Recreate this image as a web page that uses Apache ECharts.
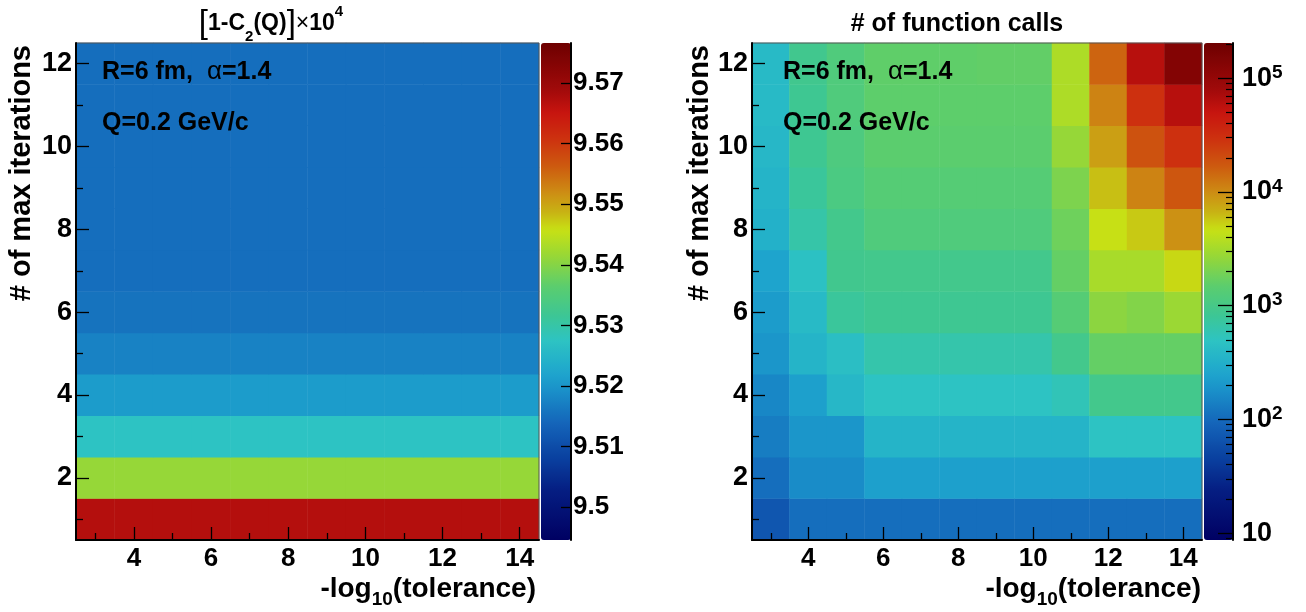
<!DOCTYPE html>
<html><head><meta charset="utf-8">
<script src="https://cdn.jsdelivr.net/npm/echarts@6/dist/echarts.min.js"></script>
<style>html,body{margin:0;padding:0;background:#fff}#c{width:1306px;height:612px}</style>
</head><body><div id="c"></div>
<script>
// ---------------- data ----------------
const tolerance = ['3','4','5','6','7','8','9','10','11','12','13','14'];
const iterations = ['1','2','3','4','5','6','7','8','9','10','11','12'];
// [1-C2(Q)]x10^4 ; rows = max iterations 1..12, columns = -log10(tolerance) 3..14
const c2Rows = [
  [9.5670,9.5670,9.5670,9.5670,9.5670,9.5670,9.5670,9.5670,9.5670,9.5670,9.5670,9.5670],
  [9.5413,9.5413,9.5413,9.5413,9.5413,9.5413,9.5413,9.5413,9.5413,9.5413,9.5413,9.5413],
  [9.5274,9.5274,9.5274,9.5274,9.5274,9.5274,9.5274,9.5274,9.5274,9.5274,9.5274,9.5274],
  [9.5208,9.5208,9.5208,9.5208,9.5208,9.5208,9.5208,9.5208,9.5208,9.5208,9.5208,9.5208],
  [9.5175,9.5175,9.5175,9.5175,9.5175,9.5175,9.5175,9.5175,9.5175,9.5175,9.5175,9.5175],
  [9.5156,9.5156,9.5156,9.5156,9.5156,9.5156,9.5156,9.5156,9.5156,9.5156,9.5156,9.5156],
  [9.5150,9.5150,9.5150,9.5150,9.5150,9.5150,9.5150,9.5150,9.5150,9.5150,9.5150,9.5150],
  [9.5150,9.5150,9.5150,9.5150,9.5150,9.5150,9.5150,9.5150,9.5150,9.5150,9.5150,9.5150],
  [9.5150,9.5150,9.5150,9.5150,9.5150,9.5150,9.5150,9.5150,9.5150,9.5150,9.5150,9.5150],
  [9.5150,9.5150,9.5150,9.5150,9.5150,9.5150,9.5150,9.5150,9.5150,9.5150,9.5150,9.5150],
  [9.5150,9.5150,9.5150,9.5150,9.5150,9.5150,9.5150,9.5150,9.5150,9.5150,9.5150,9.5150],
  [9.5150,9.5150,9.5150,9.5150,9.5150,9.5150,9.5150,9.5150,9.5150,9.5150,9.5150,9.5150]
];
// # of function calls ; rows = max iterations 1..12, columns = -log10(tolerance) 3..14
const callRows = [
  [69,107,107,107,107,107,107,107,107,107,107,107],
  [107,168,168,234,234,234,234,234,234,234,234,234],
  [134,197,197,352,352,352,352,352,352,488,488,488],
  [155,234,383,488,488,488,488,488,556,935,935,935],
  [197,352,440,643,643,643,643,643,935,1630,1630,1630],
  [218,400,767,848,848,848,848,848,1330,2440,2200,2830],
  [250,470,900,935,935,935,935,935,1630,3300,3300,5000],
  [325,660,935,1200,1200,1200,1200,1200,1800,4650,5600,9480],
  [352,767,1090,1330,1330,1330,1330,1330,2100,6030,11000,17700],
  [380,848,1150,1475,1475,1475,1475,1475,2700,8150,18600,30000],
  [400,848,1200,1520,1520,1520,1520,1520,3470,11000,30000,61000],
  [400,900,1200,1550,1550,1550,1600,1600,3470,15100,61000,136000]
];
const c2BarTicks = [9.50,9.51,9.52,9.53,9.54,9.55,9.56,9.57];
const c2Range = [9.4946, 9.5766];
const callBarDecades = [1,2,3,4,5];           // log10 of 10 ... 10^5
const callLogRange = [0.94, 5.31];

// ---------------- palette ----------------
const paletteStops = [
  [0.0,[0,0,98]],[0.10,[5,30,130]],[0.166,[10,65,160]],[0.234,[20,100,185]],
  [0.294,[25,140,200]],[0.335,[30,165,205]],[0.40,[45,195,195]],[0.45,[60,198,150]],
  [0.51,[90,205,110]],[0.57,[150,215,55]],[0.624,[200,225,20]],[0.658,[200,180,20]],
  [0.70,[205,140,20]],[0.752,[205,90,15]],[0.806,[205,50,15]],[0.86,[200,20,15]],
  [0.907,[160,10,10]],[1.0,[110,0,0]]
];
function buildPalette(n){
  const out=[];
  for(let i=0;i<n;i++){
    const t=i/(n-1);
    let k=0; while(k<paletteStops.length-2 && t>paletteStops[k+1][0]) k++;
    const [t0,c0]=paletteStops[k],[t1,c1]=paletteStops[k+1];
    const f=(t-t0)/(t1-t0);
    const c=c0.map((v,j)=>Math.round(v+(c1[j]-v)*f));
    out.push('rgb('+c.join(',')+')');
  }
  return out;
}
const palette = buildPalette(121);

const c2Data=[]; c2Rows.forEach((row,yi)=>row.forEach((v,xi)=>c2Data.push([xi,yi,v])));
const callData=[]; callRows.forEach((row,yi)=>row.forEach((v,xi)=>callData.push([xi,yi,v,Math.log10(v)])));
const callMinor=[];
for(let d=0; d<=5; d++) for(let k=2;k<=9;k++){const l=d+Math.log10(k); if(l>callLogRange[0]&&l<callLogRange[1]) callMinor.push(l);}

// ---------------- styling ----------------
const FONT='Liberation Sans';
const xlbl={fontSize:26,fontWeight:'bold',fontFamily:FONT,color:'#000'};
const ylbl={fontSize:27,fontWeight:'bold',fontFamily:FONT,color:'#000'};
const AXW=2, TKW=1.3;
function xMajor(g){return {type:'category',gridIndex:g,data:tolerance,position:'bottom',z:10,
  axisLine:{show:true,onZero:false,lineStyle:{color:'#000',width:AXW}},
  axisTick:{show:true,inside:true,alignWithLabel:true,length:13,interval:(i)=>i%2===1,lineStyle:{color:'#000',width:TKW}},
  axisLabel:Object.assign({interval:(i)=>i%2===1,margin:6},xlbl),splitLine:{show:false}};}
function xMinor(g){return {type:'category',gridIndex:g,data:tolerance,position:'bottom',z:10,
  axisLine:{show:false,onZero:false},
  axisTick:{show:true,inside:true,alignWithLabel:true,length:7,interval:(i)=>i%2===0,lineStyle:{color:'#000',width:TKW}},
  axisLabel:{show:false},splitLine:{show:false}};}
function yMajor(g){return {type:'category',gridIndex:g,data:iterations,position:'left',z:10,
  axisLine:{show:true,onZero:false,lineStyle:{color:'#000',width:AXW}},
  axisTick:{show:true,inside:true,alignWithLabel:true,length:13,interval:(i)=>i%2===1,lineStyle:{color:'#000',width:TKW}},
  axisLabel:Object.assign({interval:(i)=>i%2===1,margin:4},ylbl),splitLine:{show:false}};}
function yMinor(g){return {type:'category',gridIndex:g,data:iterations,position:'left',z:10,
  axisLine:{show:false,onZero:false},
  axisTick:{show:true,inside:true,alignWithLabel:true,length:7,interval:(i)=>i%2===0,lineStyle:{color:'#000',width:TKW}},
  axisLabel:{show:false},splitLine:{show:false}};}

const gridBase={top:43,height:497,show:true,borderColor:'#555',borderWidth:1,backgroundColor:'transparent',z:5,containLabel:false,outerBoundsMode:'none'};
const subRich={b:{fontSize:28,fontFamily:FONT,fontWeight:'bold',fill:'#000',lineHeight:40},
               sub:{fontSize:19,fontFamily:FONT,fontWeight:'bold',fill:'#000',lineHeight:19,verticalAlign:'bottom'}};
const annRich={b:{fontSize:25,fontFamily:FONT,fontWeight:'bold',fill:'#000'},a:{fontSize:26,fontFamily:FONT,fontWeight:'normal',fill:'#000'}};

const option={
  animation:false,
  backgroundColor:'#fff',
  grid:[
    Object.assign({left:76,width:463},gridBase),
    Object.assign({left:752,width:450},gridBase),
    {left:541,width:30,top:43,height:497,show:false,containLabel:false,outerBoundsMode:'none'},
    {left:1204,width:29,top:43,height:497,show:false,containLabel:false,outerBoundsMode:'none'}
  ],
  xAxis:[
    xMajor(0), xMinor(0), xMajor(1), xMinor(1),
    {type:'value',gridIndex:2,show:false,min:0,max:1},
    {type:'value',gridIndex:3,show:false,min:0,max:1}
  ],
  yAxis:[
    yMajor(0), yMinor(0), yMajor(1), yMinor(1),
    {type:'value',gridIndex:2,position:'right',min:c2Range[0],max:c2Range[1],z:10,
      axisLine:{show:true,onZero:false,lineStyle:{color:'#000',width:AXW}},
      axisTick:{show:true,inside:true,length:10,customValues:c2BarTicks,lineStyle:{color:'#000',width:TKW}},
      axisLabel:Object.assign({customValues:c2BarTicks,margin:2,formatter:(v)=>String(+(+v).toFixed(2))},xlbl),
      splitLine:{show:false}},
    {type:'value',gridIndex:3,position:'right',min:callLogRange[0],max:callLogRange[1],z:10,
      axisLine:{show:true,onZero:false,lineStyle:{color:'#000',width:AXW}},
      axisTick:{show:true,inside:true,length:15,customValues:callBarDecades,lineStyle:{color:'#000',width:TKW}},
      axisLabel:{customValues:callBarDecades,margin:9,
        formatter:(v)=>{const n=Math.round(v);return n===1?'{b|10}':'{b|10}{s|'+n+'}';},
        rich:{b:{fontSize:27,fontWeight:'bold',fontFamily:FONT,color:'#000',lineHeight:30},
              s:{fontSize:19,fontWeight:'bold',fontFamily:FONT,color:'#000',lineHeight:22,verticalAlign:'top'}}},
      splitLine:{show:false}},
    {type:'value',gridIndex:3,position:'right',min:callLogRange[0],max:callLogRange[1],z:10,
      axisLine:{show:false,onZero:false},
      axisTick:{show:true,inside:true,length:7,customValues:callMinor,lineStyle:{color:'#000',width:1.2}},
      axisLabel:{show:false},splitLine:{show:false}}
  ],
  visualMap:[
    {type:'continuous',seriesIndex:0,dimension:2,min:c2Range[0],max:c2Range[1],inRange:{color:palette},
     calculable:false,hoverLink:false,orient:'vertical',left:541,top:43,itemWidth:30,itemHeight:497,padding:0,text:null,showLabel:false},
    {type:'continuous',seriesIndex:1,dimension:3,min:callLogRange[0],max:callLogRange[1],inRange:{color:palette},
     calculable:false,hoverLink:false,orient:'vertical',left:1204,top:43,itemWidth:29,itemHeight:497,padding:0,text:null,showLabel:false}
  ],
  series:[
    {type:'heatmap',xAxisIndex:0,yAxisIndex:0,data:c2Data,itemStyle:{borderWidth:0},emphasis:{disabled:true},silent:true},
    {type:'heatmap',xAxisIndex:2,yAxisIndex:2,data:callData,encode:{x:0,y:1,value:2},itemStyle:{borderWidth:0},emphasis:{disabled:true},silent:true}
  ],
  graphic:[
    {type:'text',x:271,y:24,z:100,style:{text:'{br|[}{b|1-C}{sub|2}{b|(Q)}{br|]}{x|×}{b|10}{sup|4}',align:'center',verticalAlign:'middle',
      rich:{br:{fontSize:33,fontFamily:FONT,fontWeight:'normal',fill:'#000',lineHeight:40},
            b:{fontSize:23,fontFamily:FONT,fontWeight:'bold',fill:'#000',lineHeight:40},
            x:{fontSize:23,fontFamily:FONT,fontWeight:'normal',fill:'#000',lineHeight:40},
            sub:{fontSize:15,fontFamily:FONT,fontWeight:'bold',fill:'#000',lineHeight:22,verticalAlign:'bottom'},
            sup:{fontSize:15,fontFamily:FONT,fontWeight:'bold',fill:'#000',lineHeight:28,verticalAlign:'top'}}}},
    {type:'text',x:957,y:24,z:100,style:{text:'# of function calls',fontSize:25,fontWeight:'bold',fontFamily:FONT,fill:'#000',align:'center',verticalAlign:'middle'}},
    // x-axis titles
    {type:'text',x:536,y:589,z:100,style:{text:'{b|-log}{sub|10}{b|(tolerance)}',align:'right',verticalAlign:'middle',rich:subRich}},
    {type:'text',x:1201,y:589,z:100,style:{text:'{b|-log}{sub|10}{b|(tolerance)}',align:'right',verticalAlign:'middle',rich:subRich}},
    // y-axis titles
    {type:'text',x:22,y:45,rotation:Math.PI/2,z:100,style:{text:'# of max iterations',fontSize:29,fontWeight:'bold',fontFamily:FONT,fill:'#000',align:'right',verticalAlign:'middle'}},
    {type:'text',x:700,y:45,rotation:Math.PI/2,z:100,style:{text:'# of max iterations',fontSize:29,fontWeight:'bold',fontFamily:FONT,fill:'#000',align:'right',verticalAlign:'middle'}},
    // in-plot annotations
    {type:'text',x:102,y:72,z:100,style:{text:'{b|R=6 fm,  }{a|α}{b|=1.4}',align:'left',verticalAlign:'middle',rich:annRich}},
    {type:'text',x:102,y:123,z:100,style:{text:'Q=0.2 GeV/c',fontSize:25,fontWeight:'bold',fontFamily:FONT,fill:'#000',align:'left',verticalAlign:'middle'}},
    {type:'text',x:783,y:72,z:100,style:{text:'{b|R=6 fm,  }{a|α}{b|=1.4}',align:'left',verticalAlign:'middle',rich:annRich}},
    {type:'text',x:783,y:123,z:100,style:{text:'Q=0.2 GeV/c',fontSize:25,fontWeight:'bold',fontFamily:FONT,fill:'#000',align:'left',verticalAlign:'middle'}}
  ]
};
const chart=echarts.init(document.getElementById('c'));
chart.setOption(option);
</script>
</body></html>
